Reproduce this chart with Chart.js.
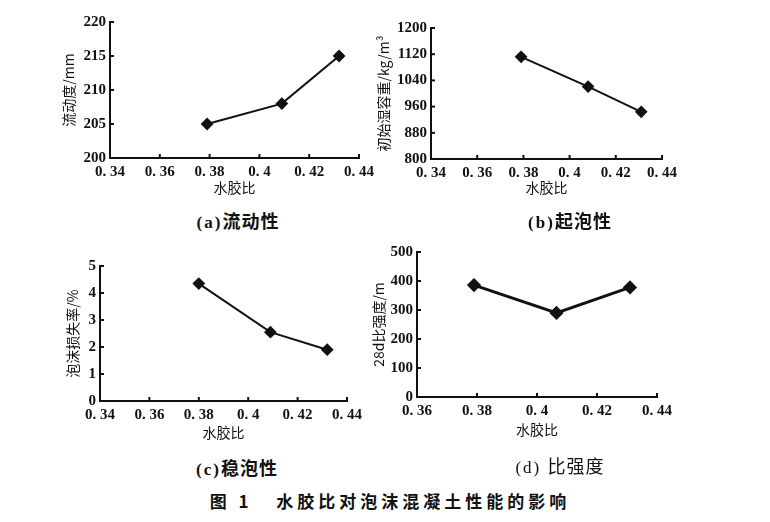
<!DOCTYPE html>
<html>
<head>
<meta charset="utf-8">
<script src="https://cdn.jsdelivr.net/npm/chart.js@4"></script>
<style>
  body { margin: 0; background: #fff; }
  #page { position: relative; width: 770px; height: 522px; background: #fff; overflow: hidden; }
  .box { position: absolute; }
  .cap { position: absolute; transform: translate(-50%, -50%); white-space: nowrap; color: #111;
         font-family: "Noto Sans CJK SC", sans-serif; font-weight: bold; font-size: 18px; letter-spacing: 1px; }
  .cap .p { font-family: "Liberation Serif", serif; font-size: 17px; letter-spacing: 2px; }
  #fig { position: absolute; left: 390px; top: 500px; transform: translate(-50%, -50%); white-space: nowrap;
         font-family: "Noto Sans CJK SC", sans-serif; font-weight: bold; font-size: 17px; letter-spacing: 4px; color: #111; }
</style>
</head>
<body>
<div id="page">
  <div class="box" style="left:56px;top:10px;width:324px;height:190px"><canvas id="chartA"></canvas></div>
  <div class="box" style="left:371px;top:10px;width:319px;height:190px"><canvas id="chartB"></canvas></div>
  <div class="box" style="left:60px;top:250px;width:315px;height:195px"><canvas id="chartC"></canvas></div>
  <div class="box" style="left:366px;top:240px;width:324px;height:202px"><canvas id="chartD"></canvas></div>
  <div class="cap" style="left:238px;top:220px"><span class="p">(a)</span>流动性</div>
  <div class="cap" style="left:570px;top:220px"><span class="p">(b)</span>起泡性</div>
  <div class="cap" style="left:237px;top:467px"><span class="p">(c)</span>稳泡性</div>
  <div class="cap" style="left:560px;top:465px;font-weight:normal"><span class="p">(d) </span>比强度</div>
  <div id="fig">图 1&nbsp;&nbsp;&nbsp;水胶比对泡沫混凝土性能的影响</div>
</div>
<script>
// water-binder ratio
const ratioA = [0.379, 0.409, 0.432];
const flowA = [205, 208, 215];

const ratioB = [0.379, 0.408, 0.431];
const densityB = [1112, 1021, 944];

const ratioC = [0.380, 0.409, 0.432];
const lossC = [4.35, 2.55, 1.9];

const ratioD = [0.379, 0.4065, 0.431];
const strengthD = [386, 290, 378];

const xTitle = "水胶比";

const tickFont = { family: "'Liberation Serif', serif", size: 15, weight: "bold" };
const titleFont = { family: "'Noto Sans CJK SC', sans-serif", size: 14 };

// small tick marks pointing into the plot
const innerTicks = {
  id: "innerTicks",
  afterDraw(chart) {
    const c = chart.ctx;
    const area = chart.chartArea;
    c.save();
    c.strokeStyle = "#111";
    c.lineWidth = 2;
    const xs = chart.scales.x;
    xs.ticks.forEach((t, i) => {
      const px = xs.getPixelForTick(i);
      c.beginPath();
      c.moveTo(px, area.bottom);
      c.lineTo(px, area.bottom - 4);
      c.stroke();
    });
    const ys = chart.scales.y;
    ys.ticks.forEach((t, i) => {
      const py = ys.getPixelForTick(i);
      c.beginPath();
      c.moveTo(area.left, py);
      c.lineTo(area.left + 4, py);
      c.stroke();
    });
    c.restore();
  },
};

function makeChart(el, xs, ys, cfg) {
  return new Chart(el, {
    type: "line",
    data: {
      datasets: [
        {
          data: xs.map((x, i) => ({ x: x, y: ys[i] })),
          borderColor: "#111",
          backgroundColor: "#111",
          borderWidth: cfg.lineWidth || 2,
          pointStyle: "rectRot",
          pointRadius: 5,
          pointHoverRadius: 5,
          tension: 0,
        },
      ],
    },
    options: {
      responsive: true,
      maintainAspectRatio: false,
      animation: false,
      layout: { padding: { top: cfg.top, right: cfg.right, left: 0, bottom: 0 } },
      plugins: { legend: { display: false }, tooltip: { enabled: false } },
      scales: {
        x: {
          type: "linear",
          min: cfg.xMin,
          max: 0.44,
          ticks: {
            stepSize: 0.02,
            color: "#111",
            font: tickFont,
            padding: 5,
            maxRotation: 0,
            callback: (v) => String(+v.toFixed(2)).replace(".", ". "),
          },
          grid: { display: true, drawOnChartArea: false, drawTicks: false },
          border: { display: true, color: "#111", width: 2 },
          title: { display: true, text: xTitle, color: "#111", font: titleFont, padding: { top: 0, bottom: 4 } },
          afterFit: (s) => {
            s.height = cfg.xH;
            s.paddingLeft = 0;
            s.paddingRight = 0;
          },
        },
        y: {
          min: cfg.yMin,
          max: cfg.yMax,
          ticks: { stepSize: cfg.yStep, color: "#111", font: tickFont, padding: 4, callback: (v) => String(v) },
          grid: { display: true, drawOnChartArea: false, drawTicks: false },
          border: { display: true, color: "#111", width: 2 },
          title: { display: true, text: cfg.yTitle, color: "#111", font: titleFont, padding: { top: 4, bottom: 0 } },
          afterFit: (s) => {
            s.width = cfg.yW;
            s.paddingTop = 0;
            s.paddingBottom = 0;
          },
        },
      },
    },
    plugins: [innerTicks],
  });
}

makeChart(document.getElementById("chartA"), ratioA, flowA, {
  xMin: 0.34, yMin: 200, yMax: 220, yStep: 5, yTitle: "流动度/mm",
  top: 12, right: 21, xH: 42, yW: 54,
});

makeChart(document.getElementById("chartB"), ratioB, densityB, {
  xMin: 0.34, yMin: 800, yMax: 1200, yStep: 80, yTitle: "初始湿容重/kg/m³",
  top: 18, right: 28, xH: 41, yW: 60,
});

makeChart(document.getElementById("chartC"), ratioC, lossC, {
  xMin: 0.34, yMin: 0, yMax: 5, yStep: 1, yTitle: "泡沫损失率/%",
  top: 16, right: 28, xH: 44, yW: 40,
});

makeChart(document.getElementById("chartD"), ratioD, strengthD, {
  xMin: 0.36, yMin: 0, yMax: 500, yStep: 100, yTitle: "28d比强度/m",
  top: 12, right: 33, xH: 45, yW: 51, lineWidth: 3,
});
</script>
</body>
</html>
